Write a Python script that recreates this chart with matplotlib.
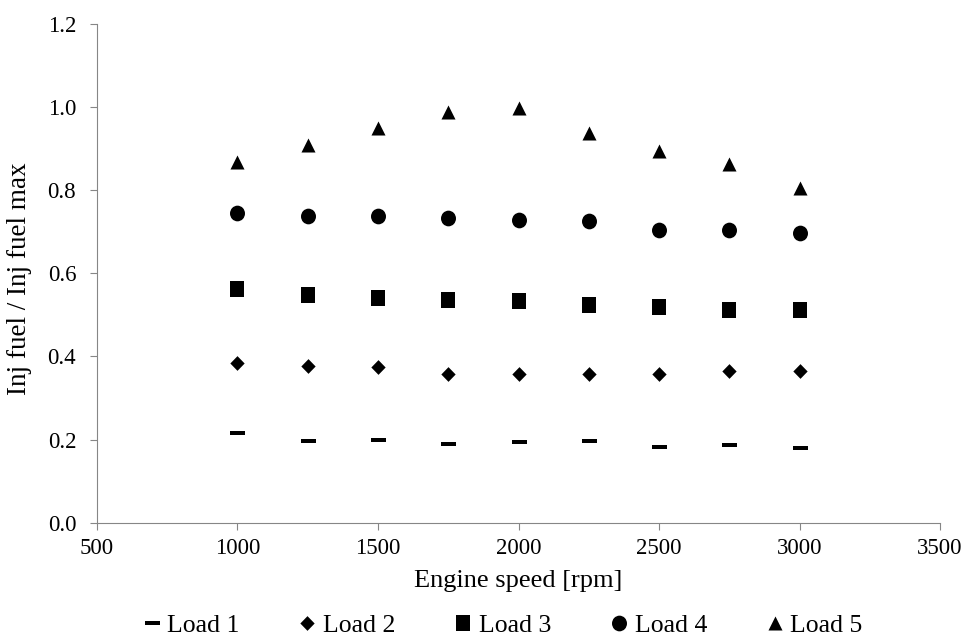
import numpy as np
import matplotlib.pyplot as plt
from matplotlib.path import Path
from matplotlib.transforms import Affine2D

plt.rcParams['font.family'] = ['Liberation Serif', 'DejaVu Serif']

# Engine speed [rpm]
speed = np.array([1000, 1250, 1500, 1750, 2000, 2250, 2500, 2750, 3000])

# Inj fuel / Inj fuel max for each load
load_1 = np.array([0.215, 0.196, 0.199, 0.190, 0.193, 0.196, 0.183, 0.186, 0.180])
load_2 = np.array([0.385, 0.377, 0.374, 0.359, 0.359, 0.359, 0.358, 0.365, 0.365])
load_3 = np.array([0.562, 0.548, 0.541, 0.537, 0.533, 0.525, 0.518, 0.511, 0.511])
load_4 = np.array([0.746, 0.739, 0.737, 0.734, 0.729, 0.727, 0.705, 0.705, 0.697])
load_5 = np.array([0.868, 0.908, 0.949, 0.989, 0.999, 0.938, 0.895, 0.863, 0.806])

labels = ['Load 1', 'Load 2', 'Load 3', 'Load 4', 'Load 5']

# marker shapes (slightly taller than wide, like the original)
dash = Path([(-7.5, -2), (7.5, -2), (7.5, 2), (-7.5, 2), (-7.5, -2)])
diamond = Path([(0, -7.35), (7.15, 0), (0, 7.35), (-7.15, 0), (0, -7.35)])
square = Path([(-7.5, -7.85), (7.5, -7.85), (7.5, 7.85), (-7.5, 7.85), (-7.5, -7.85)])
ellipse = Path.unit_circle().transformed(Affine2D().scale(7.5, 7.85))
triangle = Path([(0, 7), (-7, -7), (7, -7), (0, 7)])

fig = plt.figure(figsize=(9.66, 6.39), dpi=100)
ax = fig.add_axes([0.1004, 0.182, 0.8727, 0.7804])

kw = dict(linestyle='none', color='black', markeredgewidth=0)
ax.plot(speed, load_1, marker=dash, markersize=10.8, label=labels[0], **kw)
ax.plot(speed, load_2, marker=diamond, markersize=10.6, label=labels[1], **kw)
ax.plot(speed, load_3, marker=square, markersize=11.3, label=labels[2], **kw)
ax.plot(speed, load_4, marker=ellipse, markersize=11.3, label=labels[3], **kw)
ax.plot(speed, load_5, marker=triangle, markersize=10.1, label=labels[4], **kw)

ax.set_xlim(500, 3500)
ax.set_ylim(0, 1.2)
ax.set_xticks(np.arange(500, 3501, 500))
ax.set_yticks(np.arange(0, 1.21, 0.2))
ax.set_yticklabels([f'{v:.1f}' for v in np.arange(0, 1.21, 0.2)])

for s in ['top', 'right']:
    ax.spines[s].set_visible(False)
for s in ['left', 'bottom']:
    ax.spines[s].set_color('#868686')
ax.tick_params(axis='both', direction='out', length=5, color='#868686', labelsize=16.5)
ax.tick_params(axis='x', pad=6)
ax.tick_params(axis='y', pad=10)

ax.set_xlabel('Engine speed [rpm]', fontsize=19)
ax.set_ylabel('Inj fuel / Inj fuel max', fontsize=19.5)
ax.xaxis.set_label_coords(0.5, -0.095)
ax.yaxis.set_label_coords(-0.077, 0.49)

fig.legend(loc='center', bbox_to_anchor=(0.521, 0.021), ncol=5, frameon=False,
           fontsize=18.5, handlelength=0.6, handletextpad=0.3, columnspacing=2.35,
           borderpad=0)

fig.savefig('out.png', dpi=100)
